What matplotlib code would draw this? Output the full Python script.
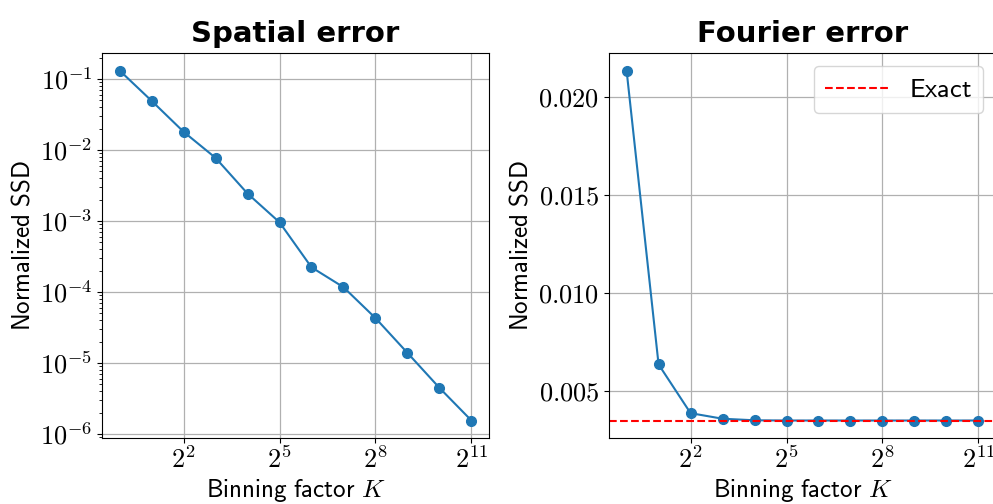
import matplotlib
matplotlib.use("Agg")
import matplotlib.pyplot as plt
import matplotlib.ticker as mticker
import numpy as np

plt.rcParams['mathtext.fontset'] = 'cm'
plt.rcParams['axes.unicode_minus'] = False

# binning factors K = 2^0 .. 2^11
K = 2.0 ** np.arange(12)

spatial_err = [0.132, 0.0494, 0.0181, 0.00776, 0.00244, 0.00096,
               0.000223, 0.000117, 4.3e-5, 1.39e-5, 4.47e-6, 1.55e-6]
fourier_err = [0.02133, 0.00634, 0.003855, 0.00357, 0.00349, 0.00348,
               0.00348, 0.00348, 0.00348, 0.00348, 0.00348, 0.00348]
exact_err = 0.00348

xticks = [2**2, 2**5, 2**8, 2**11]
xticklabels = [r'$2^{2}$', r'$2^{5}$', r'$2^{8}$', r'$2^{11}$']

fig = plt.figure(figsize=(9.93, 5.04), dpi=100)
# right panel runs past the image edge, as in the original crop
ax1 = fig.add_axes([102/993, 1-438/504, 387/993, 385/504])
ax2 = fig.add_axes([609/993, 1-438/504, 387/993, 385/504])

ax1.plot(K, spatial_err, '-o', color='#1f77b4', ms=7, lw=1.5)
ax1.set_yscale('log')
ax1.yaxis.set_major_locator(mticker.LogLocator(base=10))
ax1.yaxis.set_major_formatter(mticker.FuncFormatter(
    lambda v, p: r'$10^{%d}$' % int(round(np.log10(v)))))

ax2.plot(K, fourier_err, '-o', color='#1f77b4', ms=7, lw=1.5)
ax2.axhline(exact_err, color='red', ls='--', lw=1.5, label=r'$\mathsf{Exact}$')
ax2.set_yticks([0.005, 0.010, 0.015, 0.020])
ax2.yaxis.set_major_formatter(mticker.FuncFormatter(lambda v, p: r'$%.3f$' % v))

for ax, title in [(ax1, 'Spatial error'), (ax2, 'Fourier error')]:
    ax.set_xscale('log', base=2)
    ax.set_xticks(xticks)
    ax.set_xticklabels(xticklabels)
    ax.xaxis.set_minor_locator(mticker.NullLocator())
    ax.tick_params(labelsize=19)
    ax.grid(True, which='major', color='#b0b0b0', lw=0.9)
    ax.set_xlabel(r'$\mathsf{Binning\ factor}\ K$', fontsize=18, labelpad=2)
    ax.set_ylabel(r'$\mathsf{Normalized\ SSD}$', fontsize=18, labelpad=4)
    ax.set_title(title, fontsize=21, fontweight='bold', pad=8)

ax2.legend(loc='upper right', fontsize=19, handlelength=2.4)

fig.savefig('out.png', dpi=100)
